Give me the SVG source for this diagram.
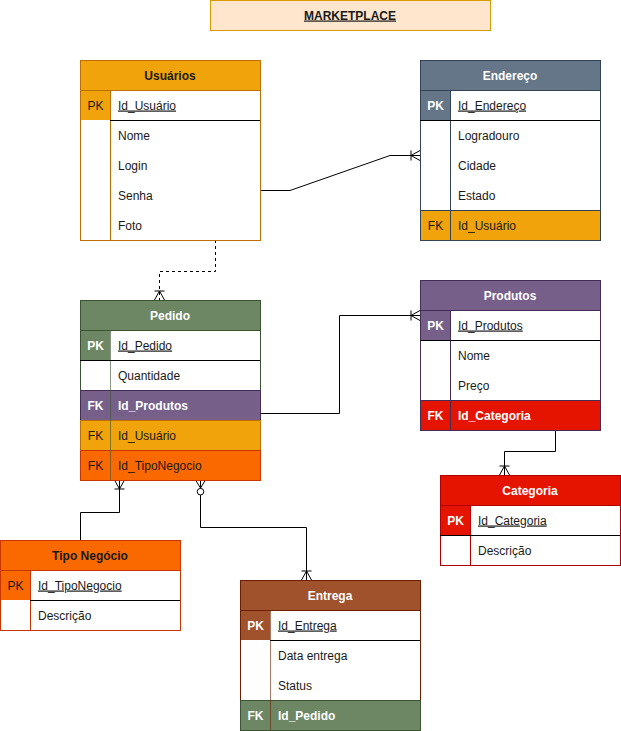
<svg xmlns="http://www.w3.org/2000/svg" width="621" height="731" viewBox="0 0 621 731">
  <style>
    text { font-family: "Liberation Sans", Arial, Helvetica, sans-serif; font-size: 12px; }
    .c { text-anchor: middle; }
    .b { font-weight: bold; }
    .u { text-decoration: underline; }
    .w { fill: #ffffff; }
    .d { fill: #1a1a1a; }
    .sep { stroke: #000000; stroke-width: 1; }
    .edge { fill: none; stroke: #000000; stroke-width: 1; }
    .dash { stroke-dasharray: 3 3; }
  </style>
  <defs>
    <marker id="oneMany" viewBox="-16 -8 18 16" refX="0" refY="0" markerWidth="18" markerHeight="16" markerUnits="userSpaceOnUse" orient="auto">
      <path d="M-9,0 L0,-5 M-9,0 L0,5 M-9,-5 V5" fill="none" stroke="#000000" stroke-width="1"/>
    </marker>
    <marker id="zeroMany" viewBox="-18 -8 20 16" refX="0" refY="0" markerWidth="20" markerHeight="16" markerUnits="userSpaceOnUse" orient="auto-start-reverse">
      <path d="M-8,0 L0,-5 M-8,0 L0,5 M-8,0 H0" fill="none" stroke="#000000" stroke-width="1"/>
      <circle cx="-11.7" cy="0" r="3.3" fill="#ffffff" stroke="#000000" stroke-width="1"/>
    </marker>
  </defs>

  <rect width="621" height="731" fill="#ffffff"/>

  <!-- title -->
  <g id="title">
    <rect x="210.5" y="0.5" width="280" height="30" fill="#ffe6cc" stroke="#d79b00"/>
    <text x="350" y="19.5" class="c b u d">MARKETPLACE</text>
  </g>

  <!-- connectors -->
  <g id="connectors">
    <path class="edge" d="M260,190.5 H290 L390,155.5 H420" marker-end="url(#oneMany)"/>
    <path class="edge dash" d="M215.5,240 V271.5 H159.5 V300" marker-end="url(#oneMany)"/>
    <path class="edge" d="M260,413.5 H339.5 V315.5 H420" marker-end="url(#oneMany)"/>
    <path class="edge" d="M555.5,430 V451.5 H504.5 V475" marker-end="url(#oneMany)"/>
    <path class="edge" d="M80.5,540 V512.5 H119.5 V480" marker-end="url(#oneMany)"/>
    <path class="edge" d="M200.5,480 V527.5 H306.5 V580" marker-start="url(#zeroMany)" marker-end="url(#oneMany)"/>
  </g>

  <!-- Usuários -->
  <g id="usuarios">
    <rect x="80.5" y="60.5" width="180" height="180" fill="#ffffff" stroke="#BD7000"/>
    <rect x="80.5" y="60.5" width="180" height="30" fill="#f0a30a" stroke="#BD7000"/>
    <text x="170" y="79.5" class="c b d">Usuários</text>
    <rect x="81" y="91" width="29" height="29" fill="#f0a30a"/>
    <line x1="110.5" y1="91" x2="110.5" y2="240" stroke="#BD7000"/>
    <line class="sep" x1="110" y1="120.5" x2="260" y2="120.5"/>
    <text x="95.5" y="109.5" class="c d">PK</text>
    <text x="118" y="109.5" class="d u">Id_Usuário</text>
    <text x="118" y="139.5" class="d">Nome</text>
    <text x="118" y="169.5" class="d">Login</text>
    <text x="118" y="199.5" class="d">Senha</text>
    <text x="118" y="229.5" class="d">Foto</text>
  </g>

  <!-- Endereço -->
  <g id="endereco">
    <rect x="420.5" y="60.5" width="180" height="180" fill="#ffffff" stroke="#314354"/>
    <rect x="420.5" y="60.5" width="180" height="30" fill="#647687" stroke="#314354"/>
    <text x="510" y="79.5" class="c b w">Endereço</text>
    <rect x="421" y="91" width="29" height="29" fill="#647687"/>
    <rect x="420.5" y="210.5" width="180" height="30" fill="#f0a30a" stroke="#314354"/>
    <line x1="450.5" y1="91" x2="450.5" y2="240" stroke="#314354"/>
    <line class="sep" x1="420" y1="120.5" x2="600" y2="120.5"/>
    <text x="435.5" y="109.5" class="c b w">PK</text>
    <text x="458" y="109.5" class="d u">Id_Endereço</text>
    <text x="458" y="139.5" class="d">Logradouro</text>
    <text x="458" y="169.5" class="d">Cidade</text>
    <text x="458" y="199.5" class="d">Estado</text>
    <text x="435.5" y="229.5" class="c d">FK</text>
    <text x="458" y="229.5" class="d">Id_Usuário</text>
  </g>

  <!-- Pedido -->
  <g id="pedido">
    <rect x="80.5" y="300.5" width="180" height="180" fill="#ffffff" stroke="#3A5431"/>
    <rect x="80.5" y="300.5" width="180" height="30" fill="#6d8764" stroke="#3A5431"/>
    <text x="170" y="319.5" class="c b w">Pedido</text>
    <rect x="81" y="331" width="29" height="29" fill="#6d8764"/>
    <rect x="80.5" y="390.5" width="180" height="30" fill="#76608a" stroke="#432D57"/>
    <rect x="80.5" y="420.5" width="180" height="30" fill="#f0a30a" stroke="#BD7000"/>
    <rect x="80.5" y="450.5" width="180" height="30" fill="#fa6800" stroke="#C73500"/>
    <line x1="110.5" y1="331" x2="110.5" y2="480" stroke="#3A5431" stroke-opacity="0.6"/>
    <line class="sep" x1="80" y1="360.5" x2="260" y2="360.5"/>
    <text x="95.5" y="349.5" class="c b w">PK</text>
    <text x="118" y="349.5" class="d u">Id_Pedido</text>
    <text x="118" y="379.5" class="d">Quantidade</text>
    <text x="95.5" y="409.5" class="c b w">FK</text>
    <text x="118" y="409.5" class="b w">Id_Produtos</text>
    <text x="95.5" y="439.5" class="c d">FK</text>
    <text x="118" y="439.5" class="d">Id_Usuário</text>
    <text x="95.5" y="469.5" class="c d">FK</text>
    <text x="118" y="469.5" class="d">Id_TipoNegocio</text>
  </g>

  <!-- Produtos -->
  <g id="produtos">
    <rect x="420.5" y="280.5" width="180" height="150" fill="#ffffff" stroke="#432D57"/>
    <rect x="420.5" y="280.5" width="180" height="30" fill="#76608a" stroke="#432D57"/>
    <text x="510" y="299.5" class="c b w">Produtos</text>
    <rect x="421" y="311" width="29" height="29" fill="#76608a"/>
    <rect x="420.5" y="400.5" width="180" height="30" fill="#e51400" stroke="#432D57"/>
    <line x1="450.5" y1="311" x2="450.5" y2="430" stroke="#432D57"/>
    <line class="sep" x1="420" y1="340.5" x2="600" y2="340.5"/>
    <text x="435.5" y="329.5" class="c b w">PK</text>
    <text x="458" y="329.5" class="d u">Id_Produtos</text>
    <text x="458" y="359.5" class="d">Nome</text>
    <text x="458" y="389.5" class="d">Preço</text>
    <text x="435.5" y="419.5" class="c b w">FK</text>
    <text x="458" y="419.5" class="b w">Id_Categoria</text>
  </g>

  <!-- Categoria -->
  <g id="categoria">
    <rect x="440.5" y="475.5" width="180" height="90" fill="#ffffff" stroke="#B20000"/>
    <rect x="440.5" y="475.5" width="180" height="30" fill="#e51400" stroke="#B20000"/>
    <text x="530" y="494.5" class="c b w">Categoria</text>
    <rect x="441" y="506" width="29" height="29" fill="#e51400"/>
    <line x1="470.5" y1="506" x2="470.5" y2="565" stroke="#B20000"/>
    <line class="sep" x1="440" y1="535.5" x2="620" y2="535.5"/>
    <text x="455.5" y="524.5" class="c b w">PK</text>
    <text x="478" y="524.5" class="d u">Id_Categoria</text>
    <text x="478" y="554.5" class="d">Descrição</text>
  </g>

  <!-- Tipo Negócio -->
  <g id="tipo-negocio">
    <rect x="0.5" y="540.5" width="180" height="90" fill="#ffffff" stroke="#C73500"/>
    <rect x="0.5" y="540.5" width="180" height="30" fill="#fa6800" stroke="#C73500"/>
    <text x="90" y="559.5" class="c b d">Tipo Negócio</text>
    <rect x="1" y="571" width="29" height="29" fill="#fa6800"/>
    <line x1="30.5" y1="571" x2="30.5" y2="630" stroke="#C73500"/>
    <line class="sep" x1="30" y1="600.5" x2="180" y2="600.5"/>
    <text x="15.5" y="589.5" class="c d">PK</text>
    <text x="38" y="589.5" class="d u">Id_TipoNegocio</text>
    <text x="38" y="619.5" class="d">Descrição</text>
  </g>

  <!-- Entrega -->
  <g id="entrega">
    <rect x="240.5" y="580.5" width="180" height="150" fill="#ffffff" stroke="#6D1F00"/>
    <rect x="240.5" y="580.5" width="180" height="30" fill="#a0522d" stroke="#6D1F00"/>
    <text x="330" y="599.5" class="c b w">Entrega</text>
    <rect x="241" y="611" width="29" height="29" fill="#a0522d"/>
    <rect x="240.5" y="700.5" width="180" height="30" fill="#6d8764" stroke="#3A5431"/>
    <line x1="270.5" y1="611" x2="270.5" y2="730" stroke="#6D1F00" stroke-opacity="0.6"/>
    <line class="sep" x1="270" y1="640.5" x2="420" y2="640.5"/>
    <text x="255.5" y="629.5" class="c b w">PK</text>
    <text x="278" y="629.5" class="d u">Id_Entrega</text>
    <text x="278" y="659.5" class="d">Data entrega</text>
    <text x="278" y="689.5" class="d">Status</text>
    <text x="255.5" y="719.5" class="c b w">FK</text>
    <text x="278" y="719.5" class="b w">Id_Pedido</text>
  </g>
</svg>
